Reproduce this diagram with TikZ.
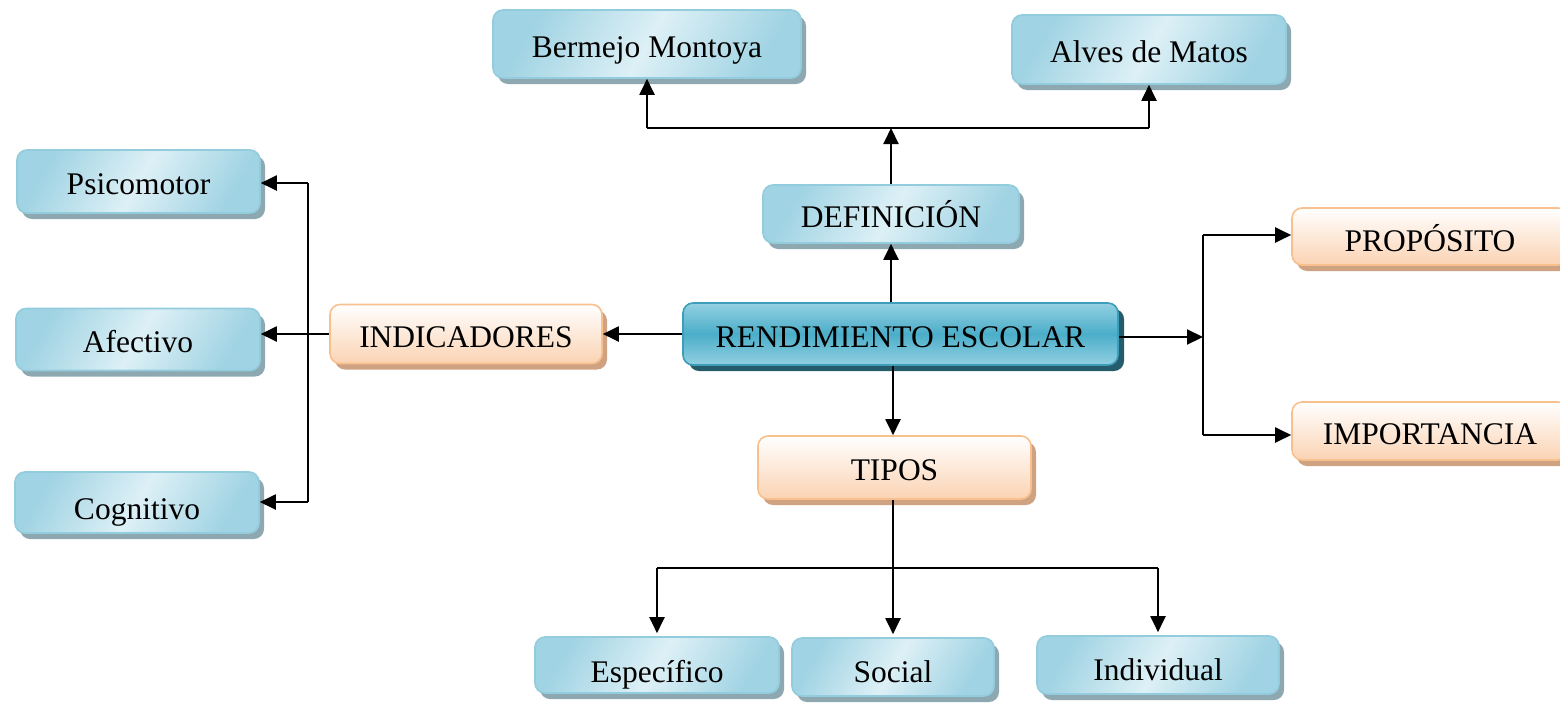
\documentclass[tikz,border=0pt]{standalone}
\usepackage{fontspec}
\setmainfont{Liberation Serif}
\usetikzlibrary{arrows.meta,shadows}
\definecolor{bluedge}{HTML}{93CCDD}
\definecolor{bluea}{HTML}{A0D3E3}
\definecolor{blueb}{HTML}{DDF0F6}
\definecolor{blueshadow}{HTML}{8DA8B0}
\definecolor{orgedge}{HTML}{F8C08E}
\definecolor{orga}{HTML}{FFFFFF}
\definecolor{orgb}{HTML}{FBD3B3}
\definecolor{orgshadow}{HTML}{CFA382}
\definecolor{cena}{HTML}{93D0E2}
\definecolor{cenb}{HTML}{4BAEC9}
\definecolor{cenedge}{HTML}{3E9DB8}
\definecolor{censhadow}{HTML}{245C6C}
\tikzset{
  boxbase/.style={rectangle, rounded corners=10pt, line width=1.6pt, inner sep=0pt,
    font=\fontsize{31.5}{36}\selectfont, text=black, text height=26pt, text depth=0pt},
  bluebox/.style={boxbase, draw=bluedge,
    left color=bluea, right color=bluea, middle color=blueb, shading angle=60,
    general shadow={fill=blueshadow, shadow xshift=5pt, shadow yshift=-6pt}},
  orgbox/.style={boxbase, draw=orgedge,
    top color=orga, bottom color=orgb,
    general shadow={fill=orgshadow, shadow xshift=5pt, shadow yshift=-6pt}},
  cenbox/.style={boxbase, draw=cenedge,
    top color=cena, bottom color=cena, middle color=cenb,
    general shadow={fill=censhadow, shadow xshift=6pt, shadow yshift=-6pt}},
  arr/.style={line width=2pt, -{Triangle[length=16pt,width=15pt]}},
  ln/.style={line width=2pt},
}
\begin{document}
\begin{tikzpicture}[x=1pt,y=-1pt]
\useasboundingbox (0,0) rectangle (1560,702);
% nodes
\node[bluebox, minimum width=308pt, minimum height=68pt] (bm) at (647,44) {Bermejo Montoya};
\node[bluebox, minimum width=274pt, minimum height=69pt] (am) at (1149,49.5) {Alves de Matos};
\node[bluebox, minimum width=256pt, minimum height=58pt] (def) at (891,214) {DEFINICIÓN};
\node[bluebox, minimum width=243pt, minimum height=63pt] (psi) at (138.5,181.5) {Psicomotor};
\node[bluebox, minimum width=244pt, minimum height=62pt] (afe) at (138,339.5) {Afectivo};
\node[bluebox, minimum width=244pt, minimum height=61pt, text height=34pt] (cog) at (137,502.5) {Cognitivo};
\node[orgbox, minimum width=272pt, minimum height=59pt] (ind) at (466,334) {INDICADORES};
\node[cenbox, minimum width=435pt, minimum height=62pt] (ren) at (900.5,334) {RENDIMIENTO ESCOLAR};
\node[orgbox, minimum width=276pt, minimum height=57pt, text height=30pt] (pro) at (1430,236.5) {PROPÓSITO};
\node[orgbox, minimum width=276pt, minimum height=58pt] (imp) at (1430,431) {IMPORTANCIA};
\node[orgbox, minimum width=273pt, minimum height=63pt] (tip) at (894.5,467.5) {TIPOS};
\node[bluebox, minimum width=244pt, minimum height=56pt, text height=34pt] (esp) at (657,665) {Específico};
\node[bluebox, minimum width=202pt, minimum height=58pt, text height=30pt] (soc) at (893,667) {Social};
\node[bluebox, minimum width=242pt, minimum height=58pt, text height=30pt] (idv) at (1158,665) {Individual};
% junction coordinates
\coordinate (tj) at (891,128);
\coordinate (lt) at (308,183);
\coordinate (lb) at (308,502);
\coordinate (rj) at (1203,337);
\coordinate (rt) at (1203,235);
\coordinate (rb) at (1203,435);
\coordinate (bj) at (893,568);
% top
\draw[arr] (def.south |- ren.north) -- (def.south);
\draw[arr] (def.north) -- (tj);
\draw[ln] (bm.south |- tj) -- (am.south |- tj);
\draw[arr] (bm.south |- tj) -- (bm.south);
\draw[arr] (am.south |- tj) -- (am.south);
% left
\draw[arr] (ren.west) -- (ind.east);
\draw[arr] (ind.west) -- (afe.east |- ind.west);
\draw[ln] (lt) -- (lb);
\draw[arr] (lt) -- (psi.east |- lt);
\draw[arr] (lb) -- (cog.east |- lb);
% right
\draw[arr] (ren.east |- rj) -- (rj);
\draw[ln] (rt) -- (rb);
\draw[arr] (rt) -- (pro.west |- rt);
\draw[arr] (rb) -- (imp.west |- rb);
% bottom
\draw[arr] (ren.south -| bj) -- (tip.north -| bj);
\draw[ln] (tip.south -| bj) -- (bj);
\draw[ln] (esp.north |- bj) -- (idv.north |- bj);
\draw[arr] (esp.north |- bj) -- ([yshift=3pt]esp.north);
\draw[arr] (bj) -- ([yshift=3pt]soc.north -| bj);
\draw[arr] (idv.north |- bj) -- ([yshift=3pt]idv.north);
\end{tikzpicture}
\end{document}
